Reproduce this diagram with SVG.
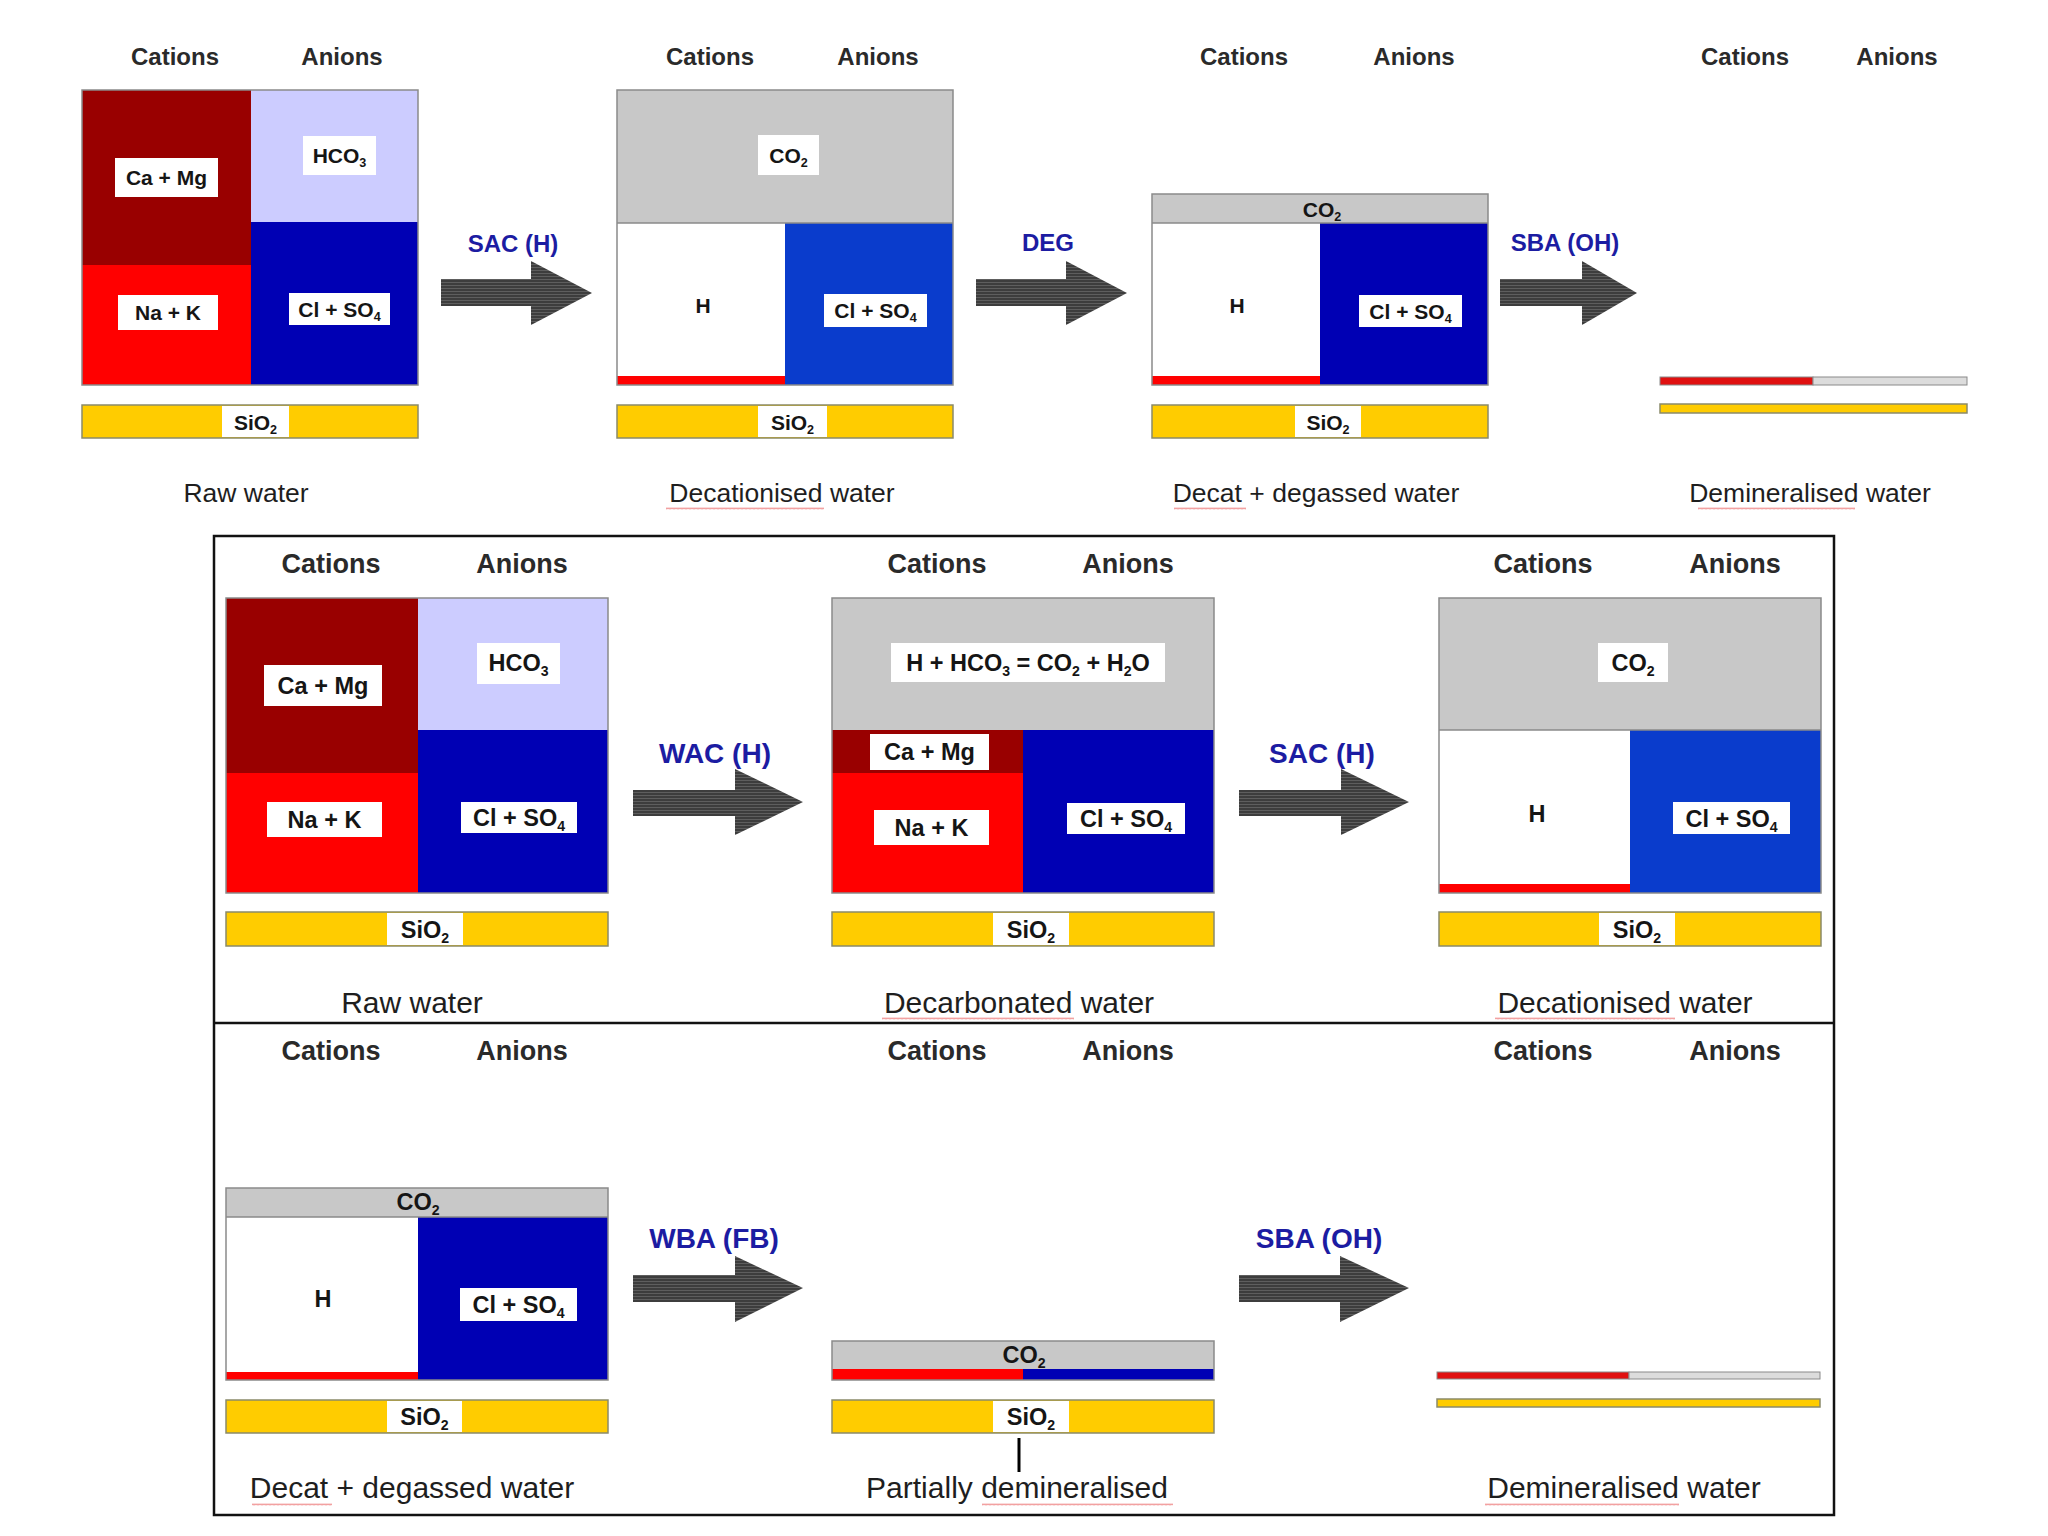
<svg xmlns="http://www.w3.org/2000/svg" width="2048" height="1536" viewBox="0 0 2048 1536">
<defs>
<pattern id="stripes" patternUnits="userSpaceOnUse" width="6" height="3">
<rect width="6" height="3" fill="#3d3d3d"/>
<rect width="6" height="1" fill="#5e5e5e"/>
</pattern>
<pattern id="squig" patternUnits="userSpaceOnUse" width="4" height="3">
<path d="M0 2.4 L1 0.6 L2 2.4 L3 0.6 L4 2.4" fill="none" stroke="#e65050" stroke-width="0.55"/>
</pattern>
</defs>
<style>
text{font-family:"Liberation Sans",Arial,sans-serif}
.hdr{font-weight:bold;fill:#2a2a2a;text-anchor:middle}
.h1{font-size:24px}.h2{font-size:27px}
.cap{fill:#1e1e1e;text-anchor:middle}
.c1{font-size:26.5px}.c2{font-size:30px}
.lbl{font-weight:bold;fill:#151515;text-anchor:middle}
.l1{font-size:21px}.l2{font-size:23.5px}
.sub{font-size:60%}
.at{font-weight:bold;fill:#1c1ca2;text-anchor:middle}
.a1{font-size:24px}.a2{font-size:28px}
.dr{fill:#990000}.rd{fill:#ff0000}.lv{fill:#ccccff}.bl{fill:#0000b4}.bl2{fill:#0a3ccc}
.gy{fill:#c8c8c8}.wh{fill:#ffffff}.yl{fill:#ffcc00;stroke:#8a8a6a;stroke-width:1.5}
.ol{fill:none;stroke:#8a8a8a;stroke-width:1.5}
.box{fill:#ffffff}
.arrow{fill:url(#stripes)}
.sq{fill:url(#squig)}
.frame{fill:none;stroke:#111;stroke-width:2.5}
</style>
<rect width="2048" height="1536" fill="#ffffff"/>

<!-- frames -->
<g id="frames">
<rect class="frame" x="214" y="536" width="1620" height="979"/>
<line x1="214" y1="1023" x2="1834" y2="1023" stroke="#111" stroke-width="2.5"/>
</g>

<!-- TOP ROW -->
<g id="top-raw">
<text class="hdr h1" x="175" y="65">Cations</text>
<text class="hdr h1" x="342" y="65">Anions</text>
<rect class="dr" x="82" y="90" width="169" height="175"/>
<rect class="rd" x="82" y="265" width="169" height="120"/>
<rect class="lv" x="251" y="90" width="167" height="132"/>
<rect class="bl" x="251" y="222" width="167" height="163"/>
<rect class="ol" x="82" y="90" width="336" height="295"/>
<rect class="box" x="115" y="158" width="103" height="39"/>
<text class="lbl l1" x="166.5" y="185">Ca + Mg</text>
<rect class="box" x="118" y="295" width="100" height="35"/>
<text class="lbl l1" x="168" y="320">Na + K</text>
<rect class="box" x="303" y="136" width="73" height="39"/>
<text class="lbl l1" x="339.5" y="163">HCO<tspan class="sub" dy="4">3</tspan></text>
<rect class="box" x="289" y="293" width="101" height="32"/>
<text class="lbl l1" x="339.5" y="317">Cl + SO<tspan class="sub" dy="4">4</tspan></text>
<rect class="yl" x="82" y="405" width="336" height="33"/>
<rect class="box" x="222" y="406" width="67" height="31"/>
<text class="lbl l1" x="255.5" y="430">SiO<tspan class="sub" dy="4">2</tspan></text>
<text class="cap c1" x="246" y="502">Raw water</text>
</g>

<g id="top-decationised">
<text class="hdr h1" x="710" y="65">Cations</text>
<text class="hdr h1" x="878" y="65">Anions</text>
<rect class="gy" x="617" y="90" width="336" height="133"/>
<rect class="wh" x="617" y="223" width="168" height="162"/>
<rect class="rd" x="617" y="376" width="168" height="9" fill="#e01010"/>
<rect class="bl2" x="785" y="223" width="168" height="162"/>
<rect class="ol" x="617" y="90" width="336" height="295"/>
<line x1="617" y1="223" x2="953" y2="223" stroke="#8a8a8a" stroke-width="1.5"/>
<rect class="box" x="758" y="135" width="61" height="40"/>
<text class="lbl l1" x="788.5" y="163">CO<tspan class="sub" dy="4">2</tspan></text>
<text class="lbl l1" x="703" y="313">H</text>
<rect class="box" x="824" y="294" width="103" height="33"/>
<text class="lbl l1" x="875.5" y="318">Cl + SO<tspan class="sub" dy="4">4</tspan></text>
<rect class="yl" x="617" y="405" width="336" height="33"/>
<rect class="box" x="758" y="406" width="69" height="31"/>
<text class="lbl l1" x="792.5" y="430">SiO<tspan class="sub" dy="4">2</tspan></text>
<text class="cap c1" x="782" y="502">Decationised water</text>
<rect class="sq" x="666" y="507" width="158" height="3"/>
</g>

<g id="top-degassed">
<text class="hdr h1" x="1244" y="65">Cations</text>
<text class="hdr h1" x="1414" y="65">Anions</text>
<rect class="gy" x="1152" y="194" width="336" height="29"/>
<rect class="wh" x="1152" y="223" width="168" height="162"/>
<rect class="rd" x="1152" y="376" width="168" height="9" fill="#e01010"/>
<rect class="bl" x="1320" y="223" width="168" height="162" fill="#0000c0"/>
<rect class="ol" x="1152" y="194" width="336" height="191"/>
<line x1="1152" y1="223" x2="1488" y2="223" stroke="#8a8a8a" stroke-width="1.5"/>
<text class="lbl l1" x="1322" y="217">CO<tspan class="sub" dy="4">2</tspan></text>
<text class="lbl l1" x="1237" y="313">H</text>
<rect class="box" x="1359" y="295" width="103" height="32"/>
<text class="lbl l1" x="1410.5" y="319">Cl + SO<tspan class="sub" dy="4">4</tspan></text>
<rect class="yl" x="1152" y="405" width="336" height="33"/>
<rect class="box" x="1295" y="406" width="66" height="31"/>
<text class="lbl l1" x="1328" y="430">SiO<tspan class="sub" dy="4">2</tspan></text>
<text class="cap c1" x="1316" y="502">Decat + degassed water</text>
<rect class="sq" x="1174" y="507" width="72" height="3"/>
</g>

<g id="top-demineralised">
<text class="hdr h1" x="1745" y="65">Cations</text>
<text class="hdr h1" x="1897" y="65">Anions</text>
<rect x="1660" y="377" width="153" height="8" fill="#e01010" stroke="#8a8a8a" stroke-width="1"/>
<rect x="1813" y="377" width="154" height="8" fill="#dcdcdc" stroke="#8a8a8a" stroke-width="1"/>
<rect class="yl" x="1660" y="404" width="307" height="9"/>
<text class="cap c1" x="1810" y="502">Demineralised water</text>
<rect class="sq" x="1698" y="507" width="157" height="3"/>
</g>

<!-- MIDDLE ROW -->
<g id="mid-raw">
<text class="hdr h2" x="331" y="573">Cations</text>
<text class="hdr h2" x="522" y="573">Anions</text>
<rect class="dr" x="226" y="598" width="192" height="175"/>
<rect class="rd" x="226" y="773" width="192" height="120"/>
<rect class="lv" x="418" y="598" width="190" height="132"/>
<rect class="bl" x="418" y="730" width="190" height="163"/>
<rect class="ol" x="226" y="598" width="382" height="295"/>
<rect class="box" x="264" y="665" width="118" height="41"/>
<text class="lbl l2" x="323" y="694">Ca + Mg</text>
<rect class="box" x="267" y="802" width="115" height="35"/>
<text class="lbl l2" x="324.5" y="828">Na + K</text>
<rect class="box" x="477" y="643" width="83" height="41"/>
<text class="lbl l2" x="518.5" y="671">HCO<tspan class="sub" dy="5">3</tspan></text>
<rect class="box" x="461" y="802" width="116" height="31"/>
<text class="lbl l2" x="519" y="826">Cl + SO<tspan class="sub" dy="5">4</tspan></text>
<rect class="yl" x="226" y="912" width="382" height="34"/>
<rect class="box" x="387" y="913" width="76" height="32"/>
<text class="lbl l2" x="425" y="938">SiO<tspan class="sub" dy="5">2</tspan></text>
<text class="cap c2" x="412" y="1013">Raw water</text>
</g>

<g id="mid-decarbonated">
<text class="hdr h2" x="937" y="573">Cations</text>
<text class="hdr h2" x="1128" y="573">Anions</text>
<rect class="gy" x="832" y="598" width="382" height="132"/>
<rect class="dr" x="832" y="730" width="191" height="43"/>
<rect class="rd" x="832" y="773" width="191" height="120"/>
<rect class="bl" x="1023" y="730" width="191" height="163"/>
<rect class="ol" x="832" y="598" width="382" height="295"/>
<rect class="box" x="891" y="643" width="274" height="39"/>
<text class="lbl l2" x="1028" y="671">H + HCO<tspan class="sub" dy="5">3</tspan><tspan dy="-5"> = CO</tspan><tspan class="sub" dy="5">2</tspan><tspan dy="-5"> + H</tspan><tspan class="sub" dy="5">2</tspan><tspan dy="-5">O</tspan></text>
<rect class="box" x="870" y="734" width="119" height="36"/>
<text class="lbl l2" x="929.5" y="760">Ca + Mg</text>
<rect class="box" x="874" y="810" width="115" height="35"/>
<text class="lbl l2" x="931.5" y="836">Na + K</text>
<rect class="box" x="1067" y="803" width="118" height="31"/>
<text class="lbl l2" x="1126" y="827">Cl + SO<tspan class="sub" dy="5">4</tspan></text>
<rect class="yl" x="832" y="912" width="382" height="34"/>
<rect class="box" x="993" y="913" width="76" height="32"/>
<text class="lbl l2" x="1031" y="938">SiO<tspan class="sub" dy="5">2</tspan></text>
<text class="cap c2" x="1019" y="1013">Decarbonated water</text>
<rect class="sq" x="882" y="1017" width="192" height="3"/>
</g>

<g id="mid-decationised">
<text class="hdr h2" x="1543" y="573">Cations</text>
<text class="hdr h2" x="1735" y="573">Anions</text>
<rect class="gy" x="1439" y="598" width="382" height="132"/>
<rect class="wh" x="1439" y="730" width="191" height="163"/>
<rect class="rd" x="1439" y="884" width="191" height="9" fill="#e01010"/>
<rect class="bl2" x="1630" y="730" width="191" height="163"/>
<rect class="ol" x="1439" y="598" width="382" height="295"/>
<line x1="1439" y1="730" x2="1821" y2="730" stroke="#8a8a8a" stroke-width="1.5"/>
<rect class="box" x="1598" y="643" width="70" height="39"/>
<text class="lbl l2" x="1633" y="671">CO<tspan class="sub" dy="5">2</tspan></text>
<text class="lbl l2" x="1537" y="822">H</text>
<rect class="box" x="1673" y="802" width="117" height="32"/>
<text class="lbl l2" x="1731.5" y="827">Cl + SO<tspan class="sub" dy="5">4</tspan></text>
<rect class="yl" x="1439" y="912" width="382" height="34"/>
<rect class="box" x="1599" y="913" width="76" height="32"/>
<text class="lbl l2" x="1637" y="938">SiO<tspan class="sub" dy="5">2</tspan></text>
<text class="cap c2" x="1625" y="1013">Decationised water</text>
<rect class="sq" x="1495" y="1017" width="180" height="3"/>
</g>

<!-- BOTTOM ROW -->
<g id="bot-degassed">
<text class="hdr h2" x="331" y="1060">Cations</text>
<text class="hdr h2" x="522" y="1060">Anions</text>
<rect class="gy" x="226" y="1188" width="382" height="29"/>
<rect class="wh" x="226" y="1217" width="192" height="163"/>
<rect class="rd" x="226" y="1372" width="192" height="8" fill="#e01010"/>
<rect class="bl" x="418" y="1217" width="190" height="163" fill="#0000b8"/>
<rect class="ol" x="226" y="1188" width="382" height="192"/>
<line x1="226" y1="1217" x2="608" y2="1217" stroke="#8a8a8a" stroke-width="1.5"/>
<text class="lbl l2" x="418" y="1210">CO<tspan class="sub" dy="5">2</tspan></text>
<text class="lbl l2" x="323" y="1307">H</text>
<rect class="box" x="460" y="1288" width="117" height="33"/>
<text class="lbl l2" x="518.5" y="1313">Cl + SO<tspan class="sub" dy="5">4</tspan></text>
<rect class="yl" x="226" y="1400" width="382" height="33"/>
<rect class="box" x="387" y="1401" width="75" height="31"/>
<text class="lbl l2" x="424.5" y="1425">SiO<tspan class="sub" dy="5">2</tspan></text>
<text class="cap c2" x="412" y="1498">Decat + degassed water</text>
<rect class="sq" x="252" y="1503" width="80" height="3"/>
</g>

<g id="bot-partial">
<text class="hdr h2" x="937" y="1060">Cations</text>
<text class="hdr h2" x="1128" y="1060">Anions</text>
<rect class="gy" x="832" y="1341" width="382" height="28"/>
<rect class="rd" x="832" y="1369" width="191" height="11" fill="#e01010"/>
<rect class="bl" x="1023" y="1369" width="191" height="11" fill="#0000b8"/>
<rect class="ol" x="832" y="1341" width="382" height="39"/>
<text class="lbl l2" x="1024" y="1363">CO<tspan class="sub" dy="5">2</tspan></text>
<rect class="yl" x="832" y="1400" width="382" height="33"/>
<rect class="box" x="993" y="1401" width="76" height="31"/>
<text class="lbl l2" x="1031" y="1425">SiO<tspan class="sub" dy="5">2</tspan></text>
<line x1="1019" y1="1438" x2="1019" y2="1472" stroke="#000" stroke-width="3"/>
<text class="cap c2" x="1017" y="1498">Partially demineralised</text>
<rect class="sq" x="982" y="1503" width="191" height="3"/>
</g>

<g id="bot-demineralised">
<text class="hdr h2" x="1543" y="1060">Cations</text>
<text class="hdr h2" x="1735" y="1060">Anions</text>
<rect x="1437" y="1372" width="192" height="7" fill="#e01010" stroke="#8a8a8a" stroke-width="1"/>
<rect x="1629" y="1372" width="191" height="7" fill="#dcdcdc" stroke="#8a8a8a" stroke-width="1"/>
<rect class="yl" x="1437" y="1399" width="383" height="8"/>
<text class="cap c2" x="1624" y="1498">Demineralised water</text>
<rect class="sq" x="1485" y="1503" width="194" height="3"/>
</g>

<!-- CONNECTORS -->
<g id="connectors">
<polygon class="arrow" points="441,279 531,279 531,261 592,293 531,325 531,306 441,306"/>
<text class="at a1" x="513" y="252">SAC (H)</text>
<polygon class="arrow" points="976,279 1066,279 1066,261 1127,293 1066,325 1066,306 976,306"/>
<text class="at a1" x="1048" y="251">DEG</text>
<polygon class="arrow" points="1500,279 1582,279 1582,261 1637,293 1582,325 1582,306 1500,306"/>
<text class="at a1" x="1565" y="251">SBA (OH)</text>

<polygon class="arrow" points="633,790 735,790 735,769 803,802 735,835 735,816 633,816"/>
<text class="at a2" x="715" y="763">WAC (H)</text>
<polygon class="arrow" points="1239,790 1341,790 1341,769 1409,802 1341,835 1341,816 1239,816"/>
<text class="at a2" x="1322" y="763">SAC (H)</text>

<polygon class="arrow" points="633,1275 735,1275 735,1256 803,1288 735,1322 735,1302 633,1302"/>
<text class="at a2" x="714" y="1248">WBA (FB)</text>
<polygon class="arrow" points="1239,1275 1340,1275 1340,1256 1409,1288 1340,1322 1340,1302 1239,1302"/>
<text class="at a2" x="1319" y="1248">SBA (OH)</text>
</g>
</svg>
